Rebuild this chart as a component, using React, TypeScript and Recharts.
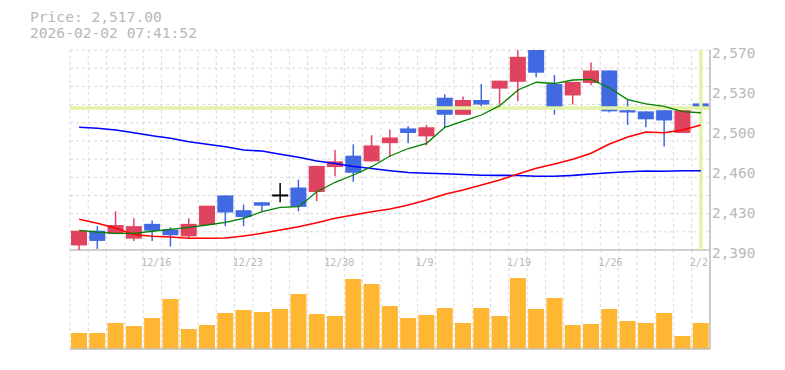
import React from "react";
import { ComposedChart, BarChart, Bar, Line, XAxis, YAxis, CartesianGrid, ReferenceLine } from "recharts";

const dates = [
  "12/10", "12/11", "12/12", "12/15", "12/16", "12/17", "12/18", "12/19", "12/22", "12/23",
  "12/24", "12/25", "12/26", "12/29", "12/30", "1/5", "1/6", "1/7", "1/8", "1/9",
  "1/13", "1/14", "1/15", "1/16", "1/19", "1/20", "1/21", "1/22", "1/23", "1/26",
  "1/27", "1/28", "1/29", "1/30", "2/2",
];
const dateTicks = ["12/16", "12/23", "12/30", "1/9", "1/19", "1/26", "2/2"];

const open = [
  2396, 2409, 2406, 2402, 2415, 2410, 2404, 2414, 2440, 2427,
  2434, 2440, 2447, 2443, 2465, 2475, 2470, 2486, 2499, 2492,
  2526, 2511, 2524, 2534, 2540, 2568, 2538, 2528, 2539, 2550,
  2515, 2514, 2515, 2495, 2521,
];
const high = [
  2409, 2413, 2426, 2420, 2418, 2412, 2420, 2431, 2440, 2432,
  2434, 2451, 2454, 2466, 2480, 2485, 2493, 2498, 2501, 2502,
  2529, 2527, 2538, 2541, 2568, 2568, 2546, 2540, 2557, 2550,
  2524, 2514, 2515, 2515, 2535,
];
const low = [
  2391, 2393, 2406, 2400, 2400, 2395, 2402, 2414, 2413, 2413,
  2426, 2434, 2426, 2435, 2457, 2452, 2470, 2474, 2486, 2484,
  2500, 2511, 2517, 2520, 2523, 2544, 2511, 2520, 2537, 2513,
  2502, 2500, 2483, 2495, 2517,
];
const close = [
  2409, 2400, 2414, 2413, 2409, 2405, 2415, 2431, 2425, 2421,
  2431, 2440, 2430, 2466, 2470, 2460, 2484, 2491, 2495, 2500,
  2511, 2524, 2520, 2541, 2562, 2548, 2516, 2540, 2550, 2514,
  2513, 2507, 2506, 2515, 2517,
];
const ma5 = [
  2409.3, 2407.8, 2406.7, 2406.7, 2408.5, 2410.2, 2412.0, 2414.0, 2416.4, 2419.9,
  2425.7, 2429.6, 2430.1, 2443.3, 2451.6, 2458.0, 2465.3, 2474.7, 2481.3, 2485.9,
  2500.0, 2505.5, 2510.8, 2519.0, 2532.8, 2539.6, 2538.5, 2541.6, 2542.2, 2534.6,
  2524.4, 2520.5, 2518.3, 2513.7, 2512.8,
];
const ma25 = [
  2419.0, 2415.5, 2411.1, 2405.6, 2404.1, 2403.4, 2402.4, 2402.3, 2402.6, 2404.3,
  2406.7, 2409.6, 2412.5, 2416.0, 2419.9, 2422.8, 2425.7, 2428.1, 2431.6, 2436.0,
  2441.0, 2444.8, 2449.2, 2453.6, 2458.9, 2463.9, 2467.7, 2471.8, 2477.1, 2485.3,
  2491.4, 2495.8, 2495.2, 2497.6, 2502.0,
];
const ma75 = [
  2500.0, 2499.1, 2497.6, 2495.2, 2492.6, 2490.3, 2487.3, 2485.0, 2482.9, 2480.0,
  2479.1, 2476.2, 2473.6, 2470.3, 2468.1, 2465.5, 2463.7, 2461.8, 2460.2, 2459.5,
  2459.1, 2458.4, 2457.8, 2457.7, 2457.6, 2456.9, 2456.9, 2457.7, 2458.9, 2460.0,
  2460.9, 2461.5, 2461.3, 2461.8, 2461.8,
];
// volume in thousand shares
const volume = [
  160, 160, 260, 230, 310, 500, 200, 240, 360, 390,
  370, 400, 550, 350, 330, 700, 650, 430, 310, 340,
  410, 260, 410, 330, 710, 400, 510, 240, 250, 400,
  280, 260, 360, 130, 260,
];

const lastPrice = 2517;
const priceDomain = [2392, 2568];
const priceTicks = [2392, 2427.2, 2462.4, 2497.6, 2532.8, 2568];

const RED = "#e0435f";
const BLUE = "#4169e1";
const LIME = "#e2f3a6";
const AXIS = "#bdbdbd";
const GRID = "#d9d9d9";
const TEXT = "#b8b8b8";
const FONT = "'DejaVu Sans Mono', monospace";

const data = dates.map((date, i) => ({
  date,
  open: open[i],
  high: high[i],
  low: low[i],
  close: close[i],
  range: [low[i], high[i]],
  ma5: ma5[i],
  ma25: ma25[i],
  ma75: ma75[i],
  vol: volume[i],
}));

const Candle = (props: any) => {
  const { x, y, width, height, payload } = props;
  const top = Math.min(y, y + height);
  const span = Math.abs(height);
  const ppu = span / (payload.high - payload.low || 1);
  const yOf = (v: number) => top + (payload.high - v) * ppu;
  const cx = x + width / 2;
  const flat = payload.open === payload.close;
  const color = flat ? "#000" : payload.close > payload.open ? RED : BLUE;
  const bTop = yOf(Math.max(payload.open, payload.close));
  const bBot = yOf(Math.min(payload.open, payload.close));
  return (
    <g>
      <line x1={cx} x2={cx} y1={top} y2={top + span} stroke={color} strokeWidth={1.5} />
      <rect x={cx - 8} y={flat ? bTop - 1 : bTop} width={16} height={flat ? 2 : Math.max(bBot - bTop, 1)} fill={color} />
    </g>
  );
};

const PriceTick = (props: any) => {
  const { x, y, payload } = props;
  const label = (Math.round(payload.value / 10) * 10).toLocaleString("en-US");
  return (
    <text x={x} y={y + 8} textAnchor="start" fill={TEXT} fontSize={14.4} fontFamily={FONT}>
      {label}
    </text>
  );
};

const VOL_TOP = 250;
const DateTick = (props: any) => {
  const { x, payload } = props;
  return (
    <text x={x - 11} y={VOL_TOP + 16} textAnchor="start" fill={TEXT} fontSize={10} fontFamily={FONT}>
      {payload.value}
    </text>
  );
};

const vLines = ({ offset }: any) =>
  Array.from({ length: dates.length + 1 }, (_, k) => offset.left + (k * offset.width) / dates.length);
const hLines = ({ offset }: any) =>
  Array.from({ length: 12 }, (_, k) => offset.top + (k * offset.height) / 11);

export default function App() {
  return (
    <div style={{ position: "absolute", left: 0, top: 0, width: 785, height: 370, background: "#fff" }}>
      <div style={{ position: "absolute", left: 30, top: 9, fontFamily: FONT, fontSize: 14.6, lineHeight: "16px", color: TEXT, whiteSpace: "pre" }}>
        {"Price: 2,517.00\n2026-02-02 07:41:52"}
      </div>

      <div style={{ position: "absolute", left: 0, top: 0 }}>
        <BarChart width={785} height={370} data={data} margin={{ top: VOL_TOP - 1, right: 0, bottom: 20, left: 70 }}>
          <CartesianGrid xAxisId="bot" strokeDasharray="3 3" stroke={GRID} horizontal={false} verticalCoordinatesGenerator={vLines} />
          <XAxis
            xAxisId="top"
            orientation="top"
            dataKey="date"
            height={1}
            ticks={dateTicks}
            interval={0}
            tickLine={false}
            axisLine={{ stroke: AXIS, strokeWidth: 1.5 }}
            tick={<DateTick />}
          />
          <XAxis xAxisId="bot" dataKey="date" height={1} tick={false} tickLine={false} axisLine={{ stroke: AXIS, strokeWidth: 1.5 }} />
          <YAxis orientation="right" width={75} domain={[0, 990]} tick={false} tickLine={false} axisLine={{ stroke: AXIS, strokeWidth: 1.5 }} />
          <Bar xAxisId="bot" dataKey="vol" fill="#ffb733" barSize={16} isAnimationActive={false} />
        </BarChart>
      </div>

      <div style={{ position: "absolute", left: 0, top: 0 }}>
        <ComposedChart width={785} height={260} data={data} margin={{ top: 50, right: 0, bottom: 10, left: 70 }}>
          <CartesianGrid strokeDasharray="3 3" stroke={GRID} verticalCoordinatesGenerator={vLines} horizontalCoordinatesGenerator={hLines} />
          <XAxis dataKey="date" hide />
          <YAxis
            orientation="right"
            width={75}
            domain={priceDomain}
            ticks={priceTicks}
            allowDataOverflow
            tickLine={false}
            tickSize={0}
            tickMargin={2}
            axisLine={{ stroke: AXIS, strokeWidth: 1.5 }}
            tick={<PriceTick />}
          />
          <ReferenceLine y={lastPrice} stroke={LIME} strokeWidth={3.5} />
          <ReferenceLine x={dates[dates.length - 1]} stroke={LIME} strokeWidth={3.5} />
          <Line dataKey="ma75" stroke="#0000ff" strokeWidth={1.6} dot={false} type="linear" isAnimationActive={false} />
          <Line dataKey="ma25" stroke="#ff0000" strokeWidth={1.6} dot={false} type="linear" isAnimationActive={false} />
          <Line dataKey="ma5" stroke="#007f00" strokeWidth={1.3} dot={false} type="linear" isAnimationActive={false} />
          <Bar dataKey="range" shape={<Candle />} barSize={16} isAnimationActive={false} />
        </ComposedChart>
      </div>
    </div>
  );
}
